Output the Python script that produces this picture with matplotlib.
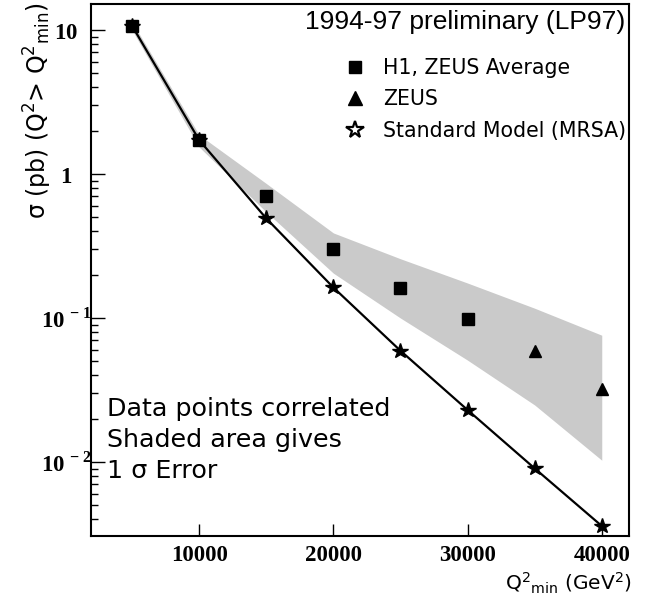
import matplotlib
matplotlib.use("Agg")
import matplotlib.pyplot as plt
from matplotlib.lines import Line2D
import numpy as np

plt.rcParams['mathtext.fontset'] = 'custom'
plt.rcParams['mathtext.rm'] = 'DejaVu Sans'
plt.rcParams['mathtext.it'] = 'DejaVu Sans:italic'
plt.rcParams['mathtext.bf'] = 'Liberation Serif:bold'

# ---- data ----
q_avg = [5000, 10000, 15000, 20000, 25000, 30000]
sig_avg = [10.7, 1.72, 0.706, 0.303, 0.161, 0.0984]

q_zeus = [35000, 40000]
sig_zeus = [0.0593, 0.0321]

q_sm = [5000, 10000, 15000, 20000, 25000, 30000, 35000, 40000]
sig_sm = [10.7, 1.72, 0.492, 0.163, 0.0593, 0.0230, 0.00904, 0.0036]

q_band = [5000, 10000, 15000, 20000, 25000, 30000, 35000, 40000]
band_hi = [11.4, 1.87, 0.86, 0.39, 0.258, 0.175, 0.117, 0.076]
band_lo = [10.0, 1.54, 0.545, 0.205, 0.100, 0.051, 0.0249, 0.0103]

xticks = [10000, 20000, 30000, 40000]
xtick_labels = ['10000', '20000', '30000', '40000']
yticks = [10, 1, 0.1, 0.01]
ytick_labels = [r'$\mathbf{10}$', r'$\mathbf{1}$', r'$\mathbf{10}^{\mathbf{\,-1}}$', r'$\mathbf{10}^{\mathbf{\,-2}}$']

legend_labels = ['H1, ZEUS Average', 'ZEUS', 'Standard Model (MRSA)']

# ---- figure ----
fig = plt.figure(figsize=(6.46, 5.97), dpi=100)
ax = fig.add_axes([91/646, 1-535.7/597, (629-91)/646, (535.7-4)/597])

ax.fill_between(q_band, band_lo, band_hi, color='#cacaca', lw=0, zorder=1)
ax.plot(q_sm, sig_sm, color='black', lw=1.6, marker='*', ms=11.5, zorder=3)
ax.plot(q_avg, sig_avg, ls='none', marker='s', ms=8.5, color='black', zorder=4)
ax.plot(q_zeus, sig_zeus, ls='none', marker='^', ms=9, color='black', zorder=4)

ax.set_yscale('log')
ax.set_xlim(1940, 42030)
ax.set_ylim(0.00308, 15.16)

ax.set_xticks(xticks)
ax.set_xticklabels(xtick_labels, fontfamily='Liberation Serif', fontweight='bold', fontsize=16.5)
ax.xaxis.set_minor_locator(matplotlib.ticker.NullLocator())
ax.tick_params(axis='x', direction='in', length=9, width=1, pad=7)

ax.set_yticks(yticks)
ax.set_yticklabels(ytick_labels, fontsize=16.5)
ax.yaxis.set_minor_locator(matplotlib.ticker.LogLocator(base=10, subs=np.arange(2, 10)))
ax.yaxis.set_minor_formatter(matplotlib.ticker.NullFormatter())
ax.tick_params(axis='y', which='major', direction='in', length=10, width=1, pad=18)
ax.tick_params(axis='y', which='minor', direction='in', length=5, width=1)
for lbl in ax.get_yticklabels():
    lbl.set_horizontalalignment('center')

for s in ax.spines.values():
    s.set_linewidth(1.5)

# title text
ax.text(0.9926, 0.966, '1994-97 preliminary (LP97)', transform=ax.transAxes,
        ha='right', va='center', fontsize=19, fontfamily='Liberation Sans')

# legend
handles = [
    Line2D([], [], ls='none', marker='s', ms=8.5, color='black'),
    Line2D([], [], ls='none', marker='^', ms=9.5, color='black'),
    Line2D([], [], ls='none', marker='*', ms=13, markerfacecolor='white',
           markeredgecolor='black', markeredgewidth=1.6),
]
leg = ax.legend(handles, legend_labels, loc='upper left', bbox_to_anchor=(0.472, 0.899),
                frameon=False, handlelength=1.0, handletextpad=0.85,
                labelspacing=0.57, borderpad=0, borderaxespad=0,
                prop={'family': 'DejaVu Sans', 'size': 14.8})

# annotation
ax.text(0.03, 0.18, 'Data points correlated\nShaded area gives\n1 σ Error',
        transform=ax.transAxes, ha='left', va='center', fontsize=18.3,
        fontfamily='DejaVu Sans', color='black', linespacing=1.36)

# axis labels
fig.text(38/646, 1-111/597, r'σ (pb) (Q$^{2}$> Q$^{2}$$_{\rm min}$)', rotation=90,
         ha='center', va='center', fontsize=17, fontfamily='DejaVu Sans')
fig.text(632/646, 1-591/597, r'Q$^{2}$$_{\rm min}$ (GeV$^{2}$)', ha='right', va='baseline',
         fontsize=14.5, fontfamily='DejaVu Sans')

fig.savefig('out.png', dpi=100)
